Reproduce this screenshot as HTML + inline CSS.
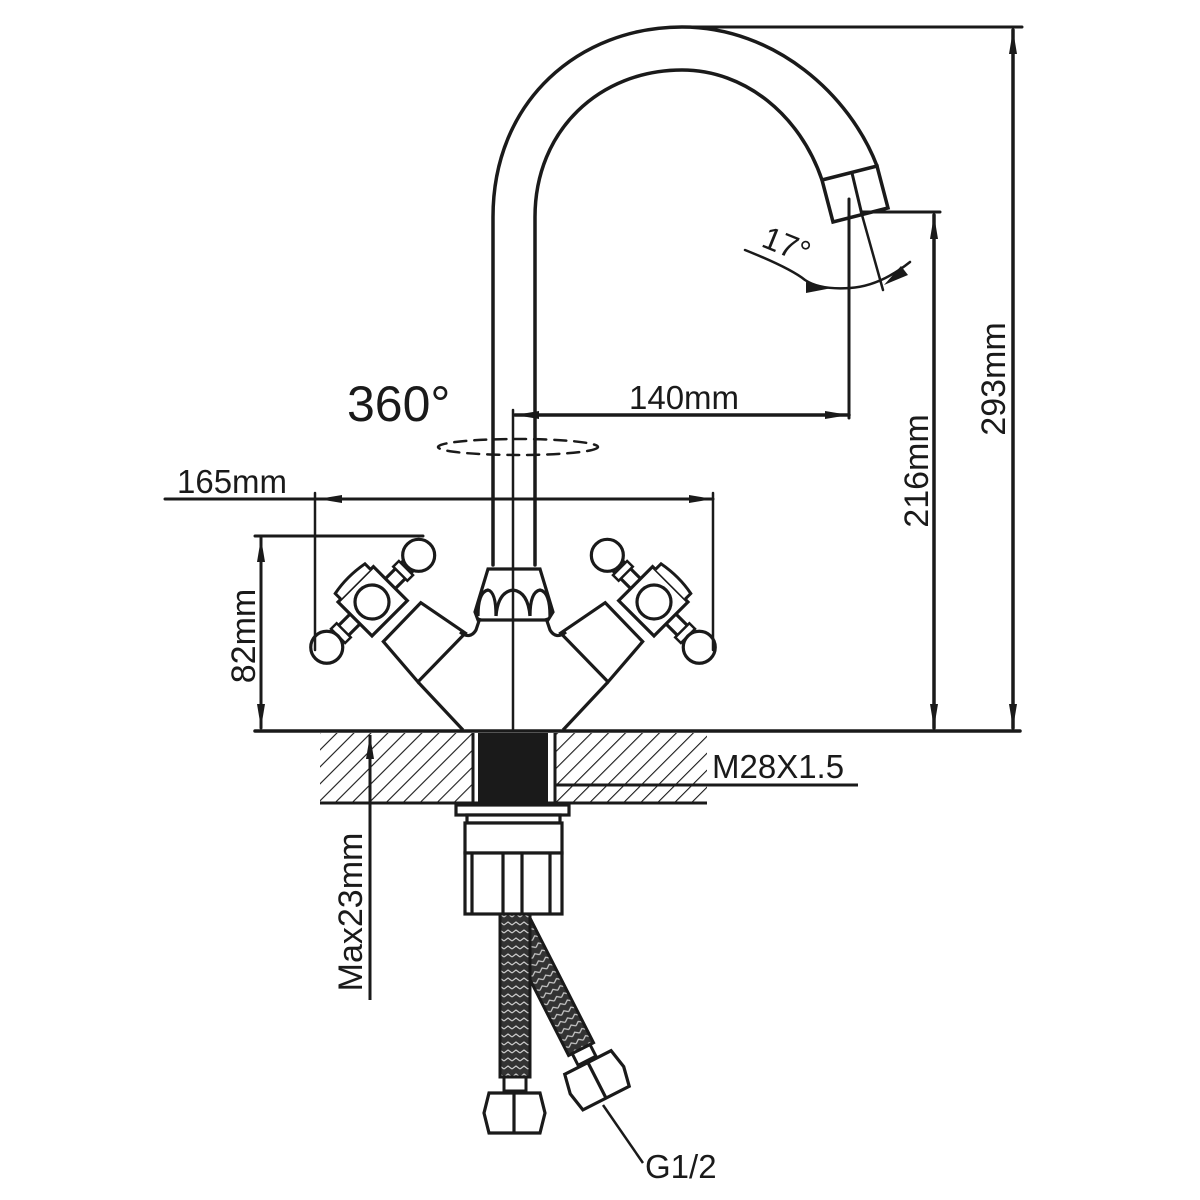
<!DOCTYPE html>
<html><head><meta charset="utf-8"><style>
html,body{margin:0;padding:0;background:#fff;width:1200px;height:1200px;overflow:hidden}
svg{display:block}
text{font-family:"Liberation Sans",sans-serif;fill:#1a1a1a}
</style></head><body>
<svg width="1200" height="1200" viewBox="0 0 1200 1200" xmlns="http://www.w3.org/2000/svg">
<defs>
<marker id="ar" viewBox="0 0 24 12" refX="24" refY="6" markerWidth="24" markerHeight="12" markerUnits="userSpaceOnUse" orient="auto-start-reverse">
<path d="M0,2 L24,6 L0,10 Z" fill="#1a1a1a"/></marker>
<pattern id="hatch" width="12" height="12" patternUnits="userSpaceOnUse" patternTransform="rotate(45)">
<line x1="0" y1="0" x2="0" y2="12" stroke="#1a1a1a" stroke-width="2.2"/></pattern>
<pattern id="braid" width="8" height="8" patternUnits="userSpaceOnUse">
<rect width="8" height="8" fill="#333"/><path d="M0,5 L4,2 L8,5" stroke="#ccc" stroke-width="1.2" fill="none"/></pattern>
<g id="handle">
  <path d="M35,-34 L88,-44 L89,24 L36,20 Z" fill="#fff" stroke="#1a1a1a" stroke-width="3.2"/>
  <rect x="-7" y="-60" width="14" height="120" fill="#fff" stroke="#1a1a1a" stroke-width="3.2"/>
  <rect x="-10" y="-48" width="20" height="8" fill="#fff" stroke="#1a1a1a" stroke-width="2.5"/>
  <rect x="-10" y="40" width="20" height="8" fill="#fff" stroke="#1a1a1a" stroke-width="2.5"/>
  <circle cx="0" cy="-66" r="16" fill="#fff" stroke="#1a1a1a" stroke-width="3.2"/>
  <circle cx="0" cy="64" r="16" fill="#fff" stroke="#1a1a1a" stroke-width="3.2"/>
  <rect x="-24" y="-26" width="48" height="50" fill="#fff" stroke="#1a1a1a" stroke-width="3.2"/>
  <path d="M-24,-22 L-32,-22 Q-36,0 -32,20 L-24,20" fill="#fff" stroke="#1a1a1a" stroke-width="3"/>
  <circle cx="0" cy="0" r="17" fill="#fff" stroke="#1a1a1a" stroke-width="3.2"/>
</g>
<g id="side">
  <use href="#handle" transform="translate(372,602) rotate(45)"/>
  <path d="M418,682 L463,730" stroke="#1a1a1a" stroke-width="3.2" fill="none"/>
  <path d="M460,632 Q470,640 476,630 L480,618" stroke="#1a1a1a" stroke-width="3.2" fill="none"/>
</g>
</defs>

<g stroke="#1a1a1a" fill="none" stroke-width="3.5" stroke-linecap="round">
  <path d="M493,565 L493,217 C493,100 580,27 682,27 C775,27 850,95 877,166"/>
  <path d="M535,565 L535,217 C535,130 600,70 682,70 C745,70 800,115 822,180"/>
  <path d="M822,180 L877,166 L888,208 L833,222 Z" fill="#fff"/>
  <line x1="852" y1="173" x2="862" y2="215" stroke-width="3"/>
</g>

<g stroke="#1a1a1a" fill="#fff" stroke-width="3.2">
  <path d="M488,569 L540,569 L553,612 L548,620 L478,620 L475,612 Z"/>
  <path d="M478,616 Q478,592 488,590 Q496,592 496,616" fill="none"/>
  <path d="M496,616 Q498,592 513,590 Q528,592 530,616" fill="none"/>
  <path d="M530,616 Q530,592 540,590 Q550,592 550,616" fill="none"/>
</g>

<use href="#side"/>
<use href="#side" transform="translate(1026,0) scale(-1,1)"/>

<g stroke="#1a1a1a" fill="none" stroke-linecap="round">
  <line x1="513" y1="410" x2="513" y2="730" stroke-width="2.5"/>
  <line x1="255" y1="731" x2="1020" y2="731" stroke-width="3.5"/>
  <line x1="682" y1="27" x2="1022" y2="27" stroke-width="3"/>
  <line x1="1013" y1="30" x2="1013" y2="728" stroke-width="3.5" marker-start="url(#ar)" marker-end="url(#ar)"/>
  <line x1="862" y1="212" x2="940" y2="212" stroke-width="3"/>
  <line x1="934" y1="215" x2="934" y2="728" stroke-width="3.5" marker-start="url(#ar)" marker-end="url(#ar)"/>
  <line x1="849" y1="199" x2="849" y2="418" stroke-width="3"/>
  <line x1="515" y1="415" x2="849" y2="415" stroke-width="3.5" marker-start="url(#ar)" marker-end="url(#ar)"/>
  <line x1="862" y1="215" x2="883" y2="290" stroke-width="2.5"/>
  <path d="M745,250 Q790,268 805,280 Q820,290 850,288 Q880,286 910,262" stroke-width="2.5"/>
  <ellipse cx="518" cy="447" rx="80" ry="8" stroke-width="2.5" stroke-dasharray="12,8"/>
  <line x1="165" y1="499" x2="318" y2="499" stroke-width="3"/>
  <line x1="318" y1="499" x2="713" y2="499" stroke-width="3" marker-start="url(#ar)" marker-end="url(#ar)"/>
  <line x1="315" y1="493" x2="315" y2="650" stroke-width="2.5"/>
  <line x1="713" y1="493" x2="713" y2="650" stroke-width="2.5"/>
  <line x1="255" y1="536" x2="423" y2="536" stroke-width="3"/>
  <line x1="261" y1="538" x2="261" y2="728" stroke-width="3" marker-start="url(#ar)" marker-end="url(#ar)"/>
</g>

<path d="M806,282 L832,288 L806,293 Z" fill="#1a1a1a"/>
<path d="M884,285 L901,266 L908,275 Z" fill="#1a1a1a"/>

<rect x="320" y="733" width="152" height="70" fill="url(#hatch)"/>
<rect x="555" y="733" width="152" height="70" fill="url(#hatch)"/>
<g stroke="#1a1a1a" stroke-width="3" fill="none">
  <line x1="320" y1="803" x2="707" y2="803"/>
  <line x1="473" y1="733" x2="473" y2="803"/>
  <line x1="555" y1="733" x2="555" y2="803"/>
  <line x1="555" y1="785" x2="858" y2="785"/>
</g>
<rect x="478" y="733" width="70" height="70" fill="#1a1a1a"/>

<line x1="370" y1="735" x2="370" y2="1000" stroke="#1a1a1a" stroke-width="3" marker-start="url(#ar)"/>

<g stroke="#1a1a1a" stroke-width="3.2" fill="#fff">
  <rect x="456" y="805" width="113" height="10"/>
  <rect x="467" y="815" width="93" height="8"/>
  <rect x="465" y="823" width="97" height="30"/>
  <rect x="465" y="853" width="97" height="61"/>
  <line x1="472" y1="853" x2="472" y2="914"/>
  <line x1="503" y1="853" x2="503" y2="914"/>
  <line x1="522" y1="853" x2="522" y2="914"/>
  <line x1="550" y1="853" x2="550" y2="914"/>
</g>

<g transform="translate(530,918) rotate(-27)">
  <rect x="-28" y="0" width="28" height="140" fill="url(#braid)" stroke="#1a1a1a" stroke-width="3"/>
  <rect x="-24" y="140" width="20" height="13" fill="#fff" stroke="#1a1a1a" stroke-width="3"/>
  <path d="M-40,155 L12,155 L16,175 L12,195 L-40,195 L-44,175 Z M-14,155 L-14,195" fill="#fff" stroke="#1a1a1a" stroke-width="3.2"/>
</g>
<rect x="500" y="914" width="30" height="163" fill="url(#braid)" stroke="#1a1a1a" stroke-width="3"/>
<rect x="504" y="1077" width="22" height="14" fill="#fff" stroke="#1a1a1a" stroke-width="3"/>
<path d="M489,1093 L540,1093 L545,1113 L540,1133 L489,1133 L484,1113 Z M514,1093 L514,1133" fill="#fff" stroke="#1a1a1a" stroke-width="3.2"/>
<line x1="603" y1="1105" x2="643" y2="1163" stroke="#1a1a1a" stroke-width="2.5"/>

<text x="347" y="421" font-size="50">360°</text>
<text x="629" y="409" font-size="33">140mm</text>
<text x="177" y="493" font-size="33">165mm</text>
<text x="712" y="778" font-size="33">M28X1.5</text>
<text x="645" y="1178" font-size="33">G1/2</text>
<text transform="translate(760,246) rotate(22)" font-size="32">17°</text>
<text transform="translate(1005,379) rotate(-90)" font-size="34" text-anchor="middle">293mm</text>
<text transform="translate(928,471) rotate(-90)" font-size="34" text-anchor="middle">216mm</text>
<text transform="translate(255,636) rotate(-90)" font-size="34" text-anchor="middle">82mm</text>
<text transform="translate(362,912) rotate(-90)" font-size="34" text-anchor="middle">Max23mm</text>
</svg>
</body></html>
